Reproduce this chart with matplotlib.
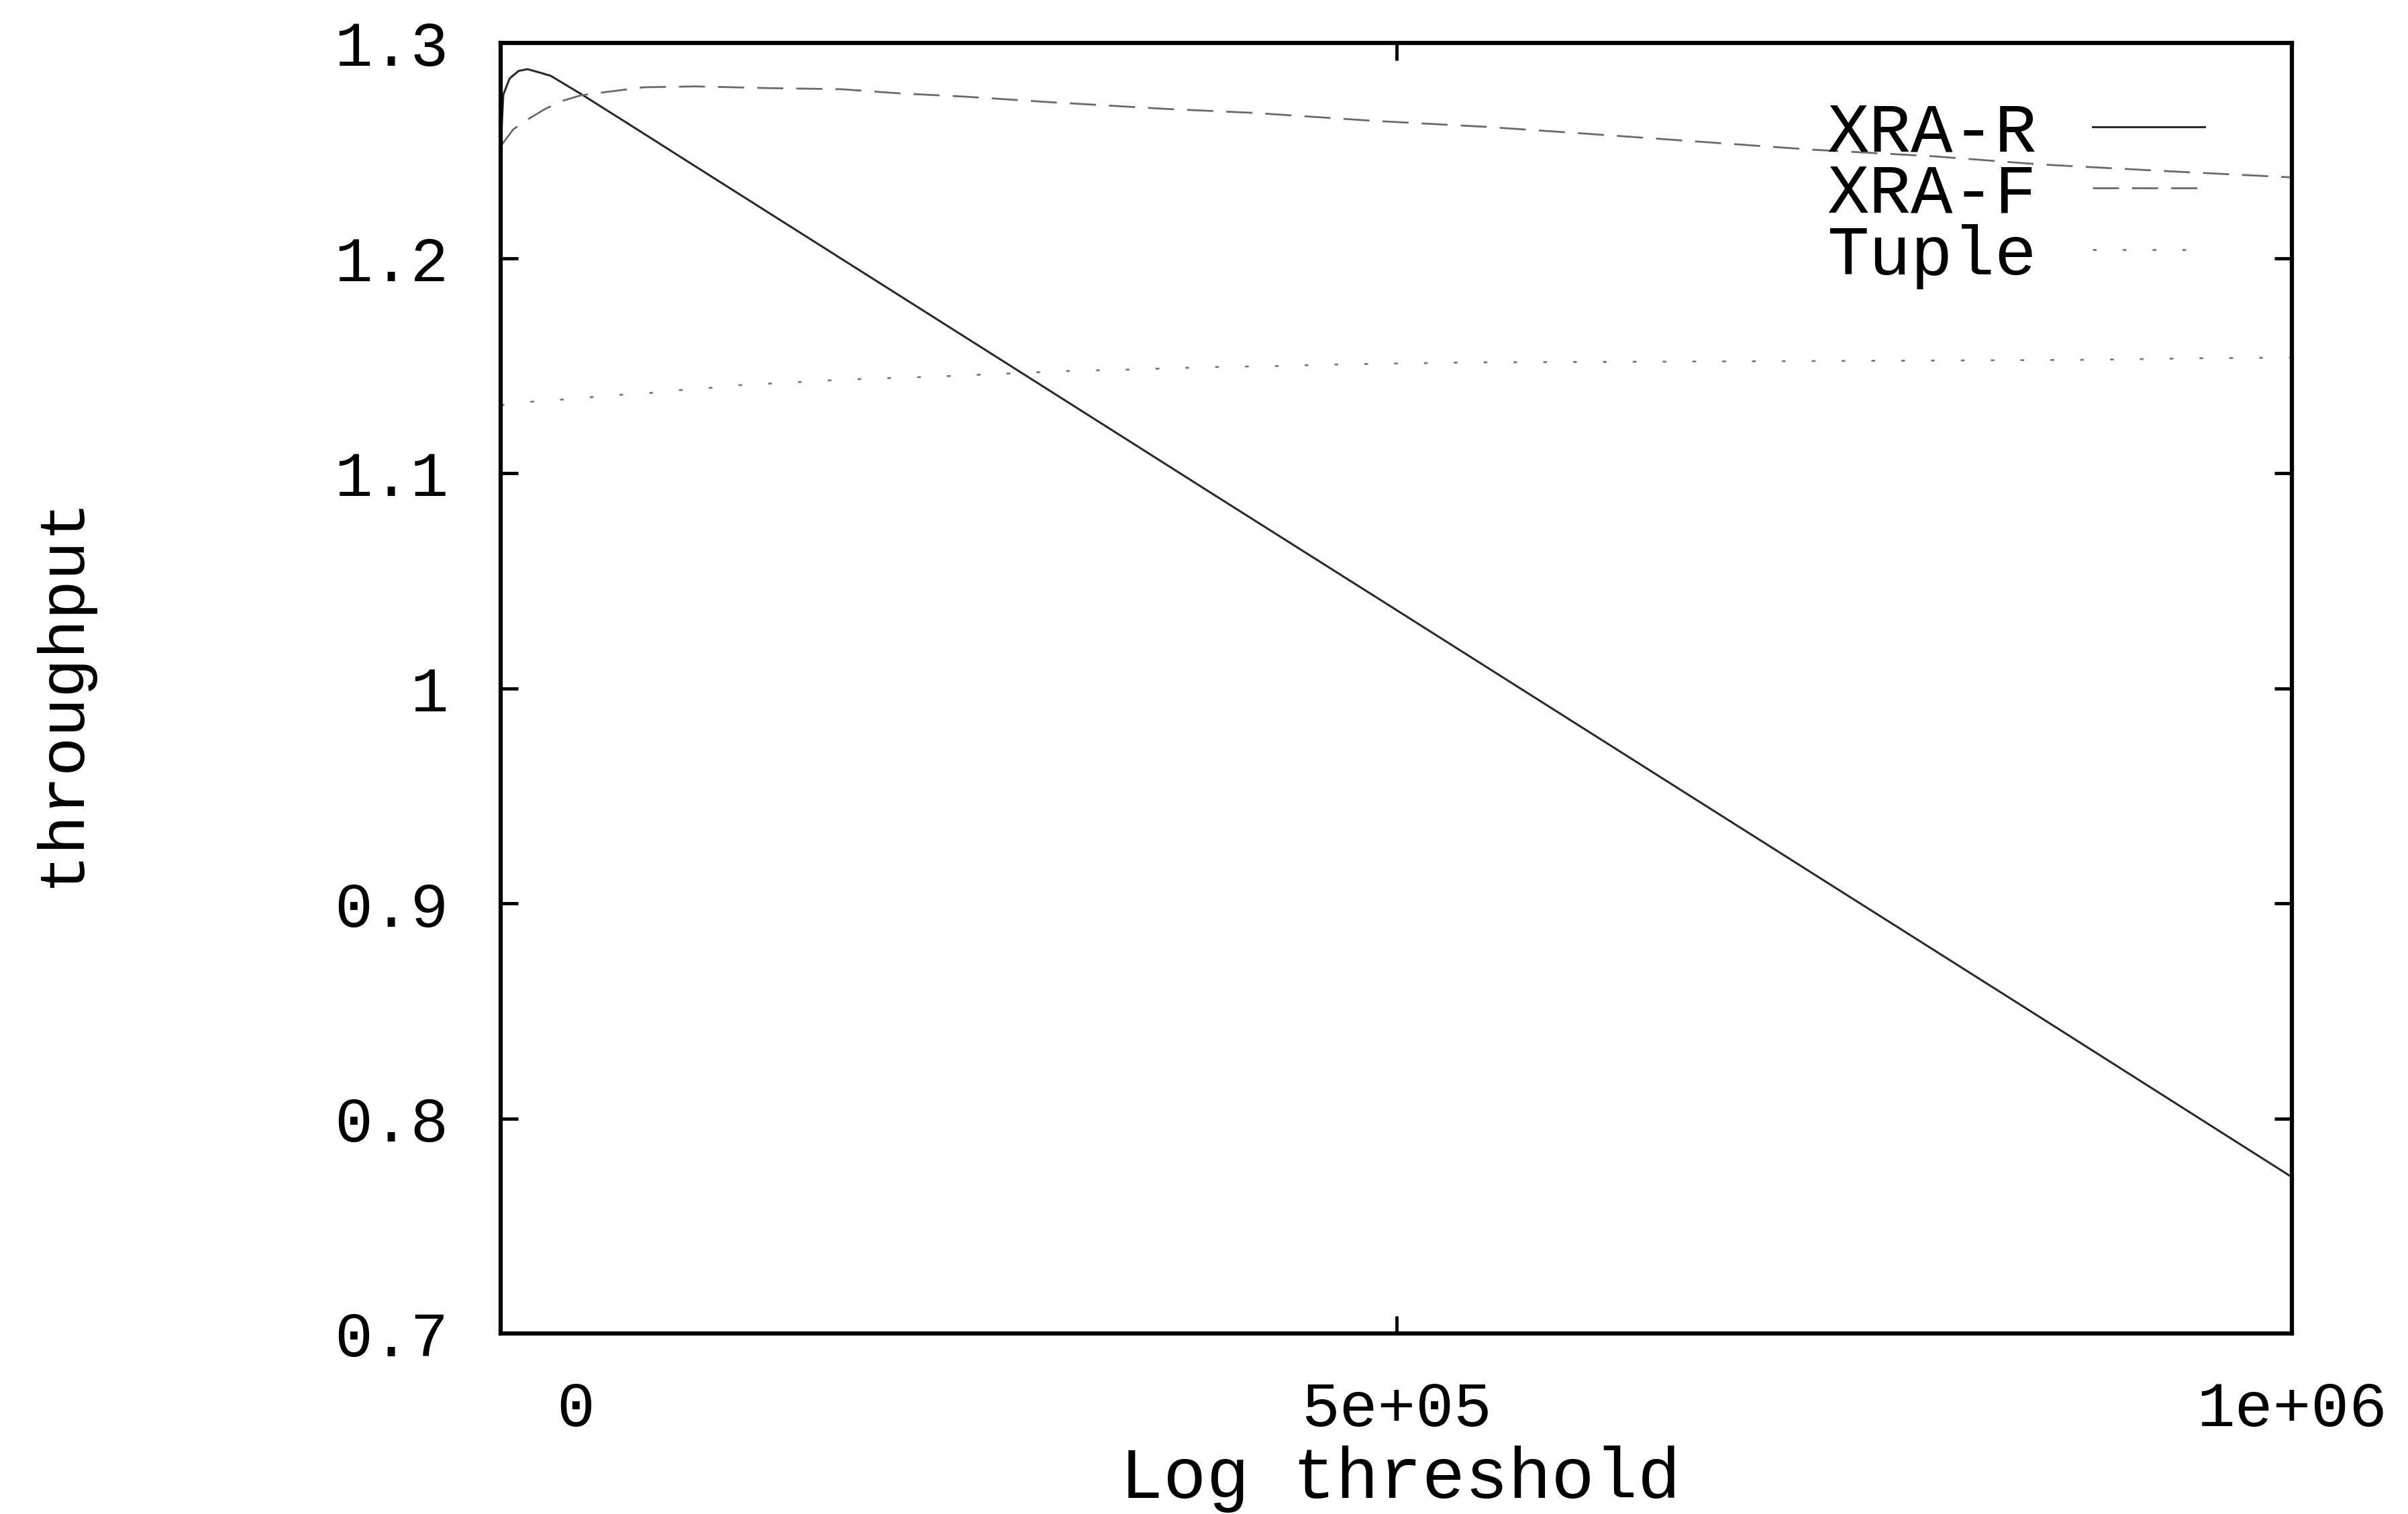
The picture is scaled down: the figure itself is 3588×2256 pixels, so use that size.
import matplotlib
matplotlib.use("Agg")
import matplotlib.pyplot as plt
from matplotlib.transforms import ScaledTranslation

# ---------------- data ----------------
xra_r_x = [0, 1500, 5000, 10000, 15000, 22000, 28000, 45000, 73000, 108000,
           200000, 292000, 400000, 500000, 700000, 850000, 1000000]
xra_r_y = [1.252, 1.276, 1.2835, 1.2870, 1.2878, 1.2862, 1.2847, 1.2762, 1.2615, 1.2430,
           1.1945, 1.1460, 1.0890, 1.0364, 0.9310, 0.8520, 0.7727]

xra_f_x = [0, 7000, 15000, 25000, 35000, 45000, 59000, 80000, 109000, 150000,
           190000, 222000, 260000, 306000, 370000, 420000, 487000, 550000, 620000,
           664000, 732000, 800000, 860000, 930000, 1000000]
xra_f_y = [1.252, 1.2598, 1.2644, 1.2694, 1.2732, 1.2757, 1.2772, 1.2794, 1.2798, 1.2790,
           1.2785, 1.2766, 1.2750, 1.2725, 1.2694, 1.2675, 1.2638, 1.2610, 1.2570,
           1.2544, 1.2504, 1.2473, 1.2435, 1.2404, 1.2375]

tuple_x = [0, 23000, 43000, 60000, 78000, 97000, 116000, 133000, 168000, 190000,
           209000, 244000, 280000, 318000, 353000, 395000, 433000, 470000, 545000,
           640000, 730000, 815000, 890000, 946000, 1000000]
tuple_y = [1.1316, 1.1337, 1.1346, 1.1362, 1.1368, 1.1384, 1.1396, 1.1409, 1.1424, 1.1434,
           1.1440, 1.1449, 1.1462, 1.1475, 1.1482, 1.1493, 1.1498, 1.1506, 1.1515,
           1.1518, 1.1521, 1.1524, 1.1527, 1.1534, 1.1537]

series_labels = ["XRA-R", "XRA-F", "Tuple"]
x_ticks = [0, 500000, 1000000]
x_tick_labels = ["0", "5e+05", "1e+06"]
y_ticks = [0.7, 0.8, 0.9, 1.0, 1.1, 1.2, 1.3]
y_tick_labels = ["0.7", "0.8", "0.9", "1", "1.1", "1.2", "1.3"]
x_label = "Log threshold"
y_label = "throughput"

# ---------------- figure ----------------
FONT = "Liberation Mono"
plt.rcParams["font.family"] = [FONT, "DejaVu Sans"]

DPI = 100
fig = plt.figure(figsize=(35.88, 22.56), dpi=DPI)
W, H = 3588, 2256
left, right, top, bottom = 746, 3415, 64, 1987
ax = fig.add_axes([left / W, 1 - bottom / H, (right - left) / W, (bottom - top) / H])

ax.plot(xra_r_x, xra_r_y, color="#2a2a2a", lw=2.2, label=series_labels[0])
ax.plot(xra_f_x, xra_f_y, color="#6a6a6a", lw=2.0, dashes=(14, 7), label=series_labels[1])
ax.plot(tuple_x, tuple_y, color="#7a7a7a", lw=2.0, dashes=(2, 14), label=series_labels[2])

ax.set_xlim(0, 1000000)
ax.set_ylim(0.7, 1.3)

for sp in ax.spines.values():
    sp.set_linewidth(4.5)
    sp.set_color("black")

ax.set_xticks(x_ticks)
ax.set_xticklabels(x_tick_labels)
ax.set_yticks(y_ticks)
ax.set_yticklabels(y_tick_labels)
ax.tick_params(axis="both", which="major", direction="in", top=True, right=True,
               length=19, width=3.5, labelsize=68)
ax.tick_params(axis="y", pad=56)
ax.tick_params(axis="x", pad=50)

ax.set_xlabel(x_label, fontsize=77, va="center")
ax.xaxis.set_label_coords((2087 - left) / (right - left), -(2204 - bottom) / (bottom - top))
ax.set_ylabel(y_label, fontsize=70, va="center")
ax.yaxis.set_label_coords((92 - left) / (right - left), (bottom - 1030) / (bottom - top))

leg = ax.legend(loc="upper right", bbox_to_anchor=((3285 - left) / (right - left), (bottom - 150) / (bottom - top)),
                frameon=False, markerfirst=False, fontsize=75, handlelength=1.6,
                handletextpad=0.8, labelspacing=-0.05, borderpad=0, borderaxespad=0)

# the "0" tick label sits to the right of the axis edge in the reference
fig.canvas.draw()
t0 = ax.xaxis.get_major_ticks()[0]
t0.label1.set_transform(t0.label1.get_transform() + ScaledTranslation(112 / DPI, 0, fig.dpi_scale_trans))

fig.savefig("out.png", dpi=DPI, facecolor="white")
